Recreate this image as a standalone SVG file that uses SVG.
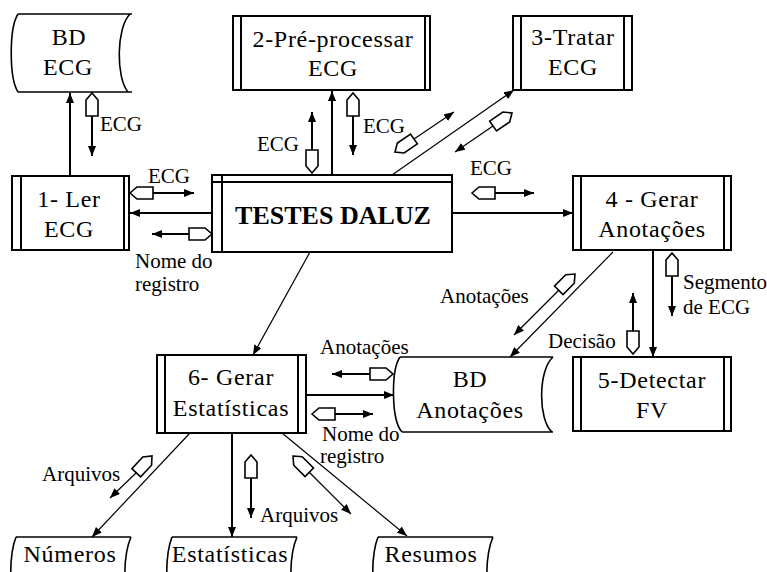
<svg xmlns="http://www.w3.org/2000/svg" width="767" height="572" viewBox="0 0 767 572">
<style>
.box{fill:#fff;stroke:#000;stroke-width:2}
.st{fill:none;stroke:#000;stroke-width:1.6}
.ln{fill:none;stroke:#000;stroke-width:2}
.thin{fill:none;stroke:#000;stroke-width:1.2}
.tok{fill:#fff;stroke:#000;stroke-width:1.6}
text{font-family:'Liberation Serif','Times New Roman',Times,serif;fill:#000}
.nt{font-size:24px;text-anchor:middle;letter-spacing:0.7px}
.lb{font-size:21px}
.tt{font-size:26px;font-weight:bold;text-anchor:middle}
</style>
<defs>
<marker id="ah" markerUnits="userSpaceOnUse" markerWidth="10" markerHeight="8" refX="10" refY="4" orient="auto"><path d="M0,0 L10,4 L0,8 Z" fill="#000"/></marker>
<path id="tk" d="M0,0 L7,-6 L23,-6 L23,6 L7,6 Z"/>
</defs>
<rect width="767" height="572" fill="#fff"/>

<g id="bd-ecg">
<path class="st" d="M18,14 H132 M18,92 H132 M18,14 C9,28 9,78 18,92 M130,14 C116,28 116,78 128,92"/>
<text class="nt" x="69" y="45" font-family="Liberation Serif">BD</text>
<text class="nt" x="68" y="75" font-family="Liberation Serif">ECG</text>
</g>

<g id="pre-processar">
<rect class="box" x="233" y="16" width="197" height="74"/>
<path class="ln" d="M241,16 V90 M425,16 V90"/>
<text class="nt" x="333" y="47">2-Pré-processar</text>
<text class="nt" x="333" y="76">ECG</text>
</g>

<g id="tratar">
<rect class="box" x="513" y="16" width="119" height="74"/>
<path class="ln" d="M521,16 V90 M624,16 V90"/>
<text class="nt" x="573" y="45">3-Tratar</text>
<text class="nt" x="573" y="75">ECG</text>
</g>

<g id="ler">
<rect class="box" x="12" y="176" width="117" height="74"/>
<path class="ln" d="M21,176 V250 M124,176 V250"/>
<text class="nt" x="69" y="207">1- Ler</text>
<text class="nt" x="69" y="237">ECG</text>
</g>

<g id="testes">
<rect class="box" x="212" y="175" width="240" height="77"/>
<path class="ln" d="M212,182 H452 M222,175 V252"/>
<text class="tt" x="333" y="224">TESTES DALUZ</text>
</g>

<g id="gerar-anotacoes">
<rect class="box" x="573" y="176" width="158" height="74"/>
<path class="ln" d="M581,176 V250 M724,176 V250"/>
<text class="nt" x="652" y="207">4 - Gerar</text>
<text class="nt" x="652" y="237">Anotações</text>
</g>

<g id="detectar">
<rect class="box" x="573" y="357" width="158" height="74"/>
<path class="ln" d="M581,357 V431 M724,357 V431"/>
<text class="nt" x="652" y="388">5-Detectar</text>
<text class="nt" x="652" y="418">FV</text>
</g>

<g id="bd-anotacoes">
<path class="st" d="M400,357 H553 M402,432 H553 M400,357 C391,370 391,420 402,432 M553,357 C538,370 538,420 552,432"/>
<text class="nt" x="470" y="387">BD</text>
<text class="nt" x="470" y="418">Anotações</text>
</g>

<g id="gerar-estatisticas">
<rect class="box" x="157" y="355" width="149" height="78"/>
<path class="ln" d="M165,355 V433 M298,355 V433"/>
<text class="nt" x="231" y="385">6- Gerar</text>
<text class="nt" x="231" y="416">Estatísticas</text>
</g>

<g id="numeros">
<path class="st" d="M16,537 H131 M16,537 C9,555 9,590 16,610 M131,537 C123,555 123,590 130,610"/>
<text class="nt" x="70" y="562">Números</text>
</g>

<g id="estatisticas">
<path class="st" d="M172,537 H297 M172,537 C165,555 165,590 172,610 M297,537 C289,555 289,590 296,610"/>
<text class="nt" x="230" y="562">Estatísticas</text>
</g>

<g id="resumos">
<path class="st" d="M378,537 H493 M378,537 C371,555 371,590 378,610 M493,537 C485,555 485,590 492,610"/>
<text class="nt" x="431" y="562">Resumos</text>
</g>

<g id="connectors">
<path class="ln" d="M70,176 V93" marker-end="url(#ah)"/>
<path class="ln" d="M332,175 V91" marker-end="url(#ah)"/>
<path class="thin" d="M392,175 L514,90" marker-end="url(#ah)"/>
<path class="ln" d="M212,213 H130" marker-end="url(#ah)"/>
<path class="ln" d="M452,213 H573" marker-end="url(#ah)"/>
<path class="thin" d="M310,252 L253,355" marker-end="url(#ah)"/>
<path class="ln" d="M653,250 V357" marker-end="url(#ah)"/>
<path class="thin" d="M613,252 L510,357" marker-end="url(#ah)"/>
<path class="ln" d="M306,395 H394" marker-end="url(#ah)"/>
<path class="thin" d="M190,433 L92,537" marker-end="url(#ah)"/>
<path class="ln" d="M232,433 V537" marker-end="url(#ah)"/>
<path class="thin" d="M282,433 L407,536" marker-end="url(#ah)"/>

<use href="#tk" class="tok" transform="translate(92,93) rotate(90)"/>
<path class="ln" d="M92,116 V156" marker-end="url(#ah)"/>
<use href="#tk" class="tok" transform="translate(312,173) rotate(-90)"/>
<path class="ln" d="M312,150 V112" marker-end="url(#ah)"/>
<use href="#tk" class="tok" transform="translate(353,93) rotate(90)"/>
<path class="ln" d="M353,116 V155" marker-end="url(#ah)"/>
<use href="#tk" class="tok" transform="translate(395,152) rotate(-34.6)"/>
<path class="thin" d="M414,139 L454,112" marker-end="url(#ah)"/>
<use href="#tk" class="tok" transform="translate(512,113) rotate(145.4)"/>
<path class="thin" d="M493,126 L455,152" marker-end="url(#ah)"/>
<use href="#tk" class="tok" transform="translate(130,193)"/>
<path class="ln" d="M153,193 H194" marker-end="url(#ah)"/>
<use href="#tk" class="tok" transform="translate(212,234) rotate(180)"/>
<path class="ln" d="M189,234 H152" marker-end="url(#ah)"/>
<use href="#tk" class="tok" transform="translate(472,193)"/>
<path class="ln" d="M495,193 H534" marker-end="url(#ah)"/>
<use href="#tk" class="tok" transform="translate(672,253) rotate(90)"/>
<path class="ln" d="M672,276 V316" marker-end="url(#ah)"/>
<use href="#tk" class="tok" transform="translate(633,354) rotate(-90)"/>
<path class="ln" d="M633,331 V293" marker-end="url(#ah)"/>
<use href="#tk" class="tok" transform="translate(575,274) rotate(135)"/>
<path class="thin" d="M559,290 L514,335" marker-end="url(#ah)"/>
<use href="#tk" class="tok" transform="translate(393,374) rotate(180)"/>
<path class="ln" d="M370,374 H332" marker-end="url(#ah)"/>
<use href="#tk" class="tok" transform="translate(312,414)"/>
<path class="ln" d="M335,414 H373" marker-end="url(#ah)"/>
<use href="#tk" class="tok" transform="translate(152,456) rotate(133.3)"/>
<path class="thin" d="M136,473 L110,498" marker-end="url(#ah)"/>
<use href="#tk" class="tok" transform="translate(251,455) rotate(90)"/>
<path class="ln" d="M251,478 V518" marker-end="url(#ah)"/>
<use href="#tk" class="tok" transform="translate(293,456) rotate(45)"/>
<path class="thin" d="M309,472 L351,514" marker-end="url(#ah)"/>
</g>

<g id="labels">
<text class="lb" x="100" y="131">ECG</text>
<text class="lb" x="257" y="151">ECG</text>
<text class="lb" x="363" y="133">ECG</text>
<text class="lb" x="470" y="175">ECG</text>
<text class="lb" x="148" y="183">ECG</text>
<text class="lb" x="135" y="268">Nome do</text>
<text class="lb" x="135" y="291">registro</text>
<text class="lb" x="440" y="303">Anotações</text>
<text class="lb" x="683" y="289">Segmento</text>
<text class="lb" x="683" y="314">de ECG</text>
<text class="lb" x="548" y="348">Decisão</text>
<text class="lb" x="320" y="354">Anotações</text>
<text class="lb" x="322" y="441">Nome do</text>
<text class="lb" x="320" y="463">registro</text>
<text class="lb" x="42" y="481">Arquivos</text>
<text class="lb" x="260" y="522">Arquivos</text>
</g>
</svg>
